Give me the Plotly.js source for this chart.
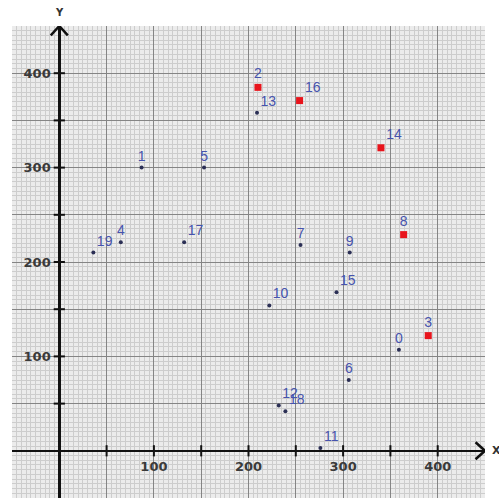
<!DOCTYPE html>
<html>
<head>
<meta charset="utf-8">
<script src="https://cdn.plot.ly/plotly-3.0.1.min.js"></script>
<style>html,body{margin:0;padding:0;background:#fff;}#chart{width:499px;height:498px;}</style>
</head>
<body>
<div id="chart"></div>
<script>
// Point data
const dotLabels = ['0','1','4','5','6','7','9','10','11','12','13','15','17','18','19'];
const dotX      = [359, 87, 65, 153, 306, 255, 307, 222, 276, 232, 209, 293, 132, 239, 36];
const dotY      = [107, 300, 221, 300, 75, 218, 210, 154, 3, 48, 358, 168, 221, 42, 210];

const redLabels = ['2','3','8','14','16'];
const redX      = [210, 390, 364, 340, 254];
const redY      = [385, 122, 229, 321, 371];

// Axis ticks (multiples of 50) and labelled values
const gridVals   = [-50, 0, 50, 100, 150, 200, 250, 300, 350, 400, 450];
const gridText   = ['', '', '', '100', '', '200', '', '300', '', '400', ''];
const axisTicks  = [50, 100, 150, 200, 250, 300, 350, 400];
const axisRange  = [-50, 450];

const labelColor = '#4653ad';
const posFor = l => (l.length > 1 ? 'top right' : 'top center');

const traces = [
  {
    type: 'scatter', mode: 'markers',
    x: axisTicks, y: axisTicks.map(() => 0),
    marker: {symbol: 'line-ns', size: 8, line: {width: 2, color: '#111'}},
    hoverinfo: 'skip', cliponaxis: false
  },
  {
    type: 'scatter', mode: 'markers',
    x: axisTicks.map(() => 0), y: axisTicks,
    marker: {symbol: 'line-ew', size: 8, line: {width: 2, color: '#111'}},
    hoverinfo: 'skip', cliponaxis: false
  },
  {
    type: 'scatter', mode: 'markers+text',
    x: dotX, y: dotY, text: dotLabels,
    textposition: dotLabels.map(posFor),
    textfont: {family: 'Liberation Sans, Arial, sans-serif', size: 14, color: labelColor},
    marker: {symbol: 'circle', size: 4, color: '#2b2f55'},
    cliponaxis: false
  },
  {
    type: 'scatter', mode: 'markers+text',
    x: redX, y: redY, text: redLabels,
    textposition: redLabels.map(posFor),
    textfont: {family: 'Liberation Sans, Arial, sans-serif', size: 14, color: labelColor},
    marker: {symbol: 'square', size: 7, color: '#e8141c'},
    cliponaxis: false
  }
];

const axisCommon = {
  range: axisRange,
  tickmode: 'array',
  tickvals: gridVals,
  ticktext: gridText,
  ticks: '',
  showgrid: true,
  gridcolor: '#858585',
  gridwidth: 1,
  minor: {dtick: 5, tick0: 0, showgrid: true, gridcolor: '#cdcdcd', gridwidth: 1},
  zeroline: false,
  showline: true,
  linecolor: '#111',
  linewidth: 2.5,
  anchor: 'free',
  position: 0.1,
  tickfont: {family: 'DejaVu Sans, sans-serif', size: 13, color: '#3a3a3a', weight: 'bold'},
  fixedrange: true
};

const layout = {
  width: 499, height: 498,
  margin: {l: 12, r: 14, t: 26, b: 0},
  paper_bgcolor: '#ffffff',
  plot_bgcolor: '#ececec',
  showlegend: false,
  xaxis: Object.assign({}, axisCommon, {ticklabelstandoff: 3}),
  yaxis: Object.assign({}, axisCommon, {ticklabelstandoff: 5}),
  shapes: [
    {type: 'path', xref: 'x', yref: 'y', path: 'M -9 440 L 0 450 L 9 440',
     line: {color: '#111', width: 2.5}, layer: 'above'},
    {type: 'path', xref: 'x', yref: 'y', path: 'M 440 -9 L 450 0 L 440 9',
     line: {color: '#111', width: 2.5}, layer: 'above'}
  ],
  annotations: [
    {text: 'Y', xref: 'x', yref: 'paper', x: 0, y: 1, yanchor: 'bottom', yshift: 6,
     showarrow: false, font: {family: 'DejaVu Sans, sans-serif', size: 10, color: '#333', weight: 'bold'}},
    {text: 'X', xref: 'paper', yref: 'y', x: 1, y: 0, xanchor: 'left', xshift: 5,
     showarrow: false, font: {family: 'DejaVu Sans, sans-serif', size: 11, color: '#333', weight: 'bold'}}
  ]
};

Plotly.newPlot('chart', traces, layout, {displayModeBar: false, staticPlot: true});
</script>
</body>
</html>
